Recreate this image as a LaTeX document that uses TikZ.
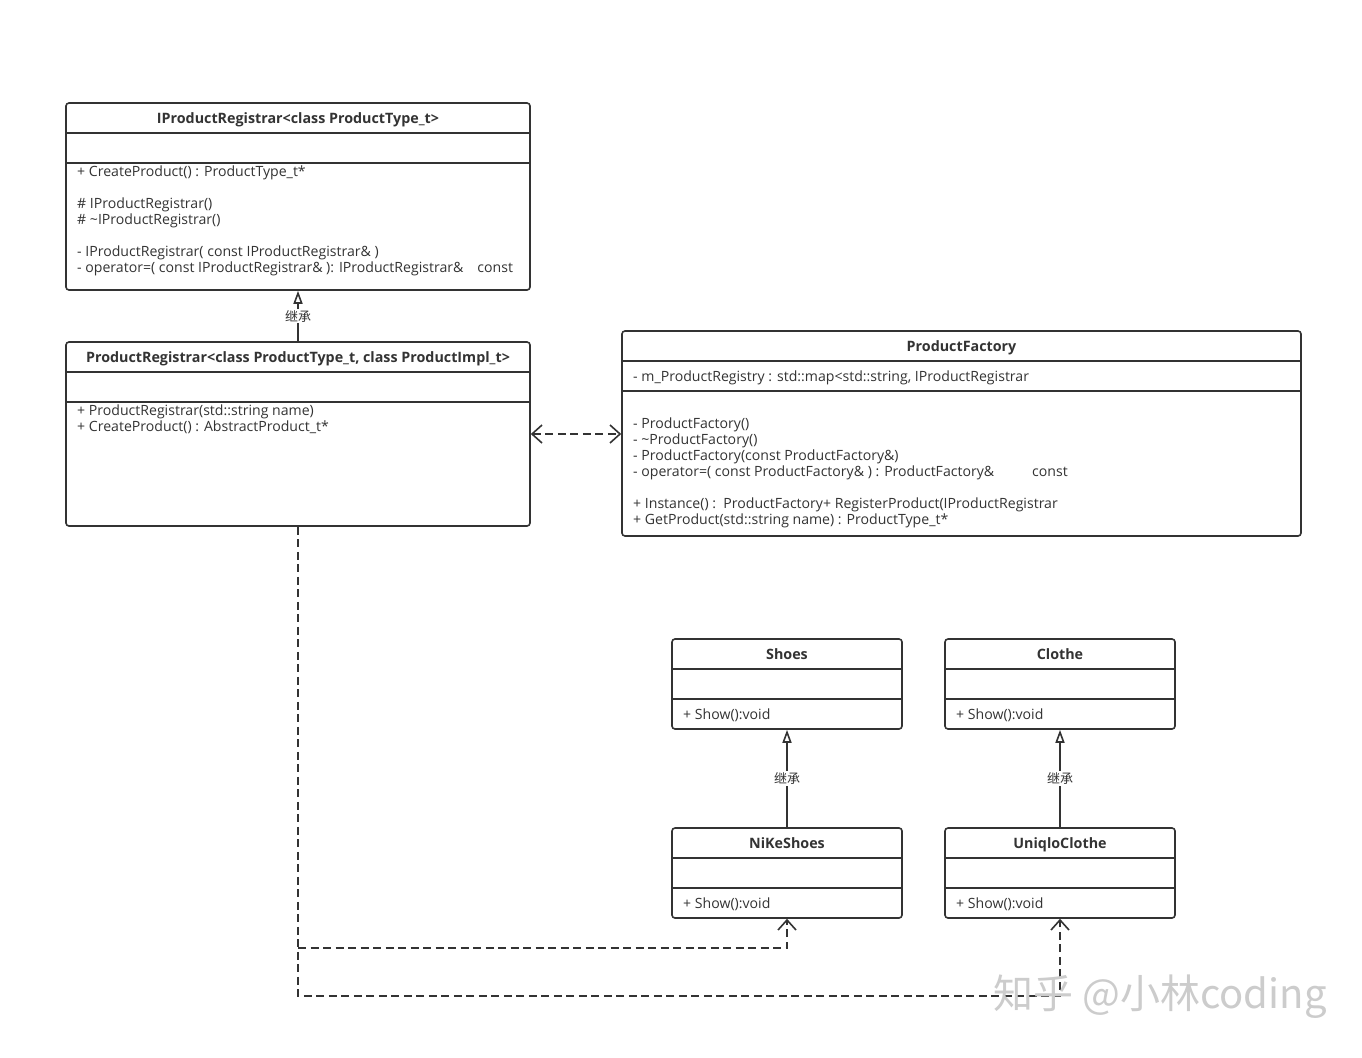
\documentclass[tikz,border=0pt]{standalone}
\usepackage{fontspec}
\setmainfont{Open Sans}
\newfontfamily\cjk{Noto Sans CJK SC}
\usetikzlibrary{arrows.meta}
\definecolor{linec}{HTML}{333333}
\tikzset{
  cls/.style={draw=linec, line width=1.6pt, rounded corners=3pt, fill=white, inner sep=0pt},
  sepl/.style={draw=linec, line width=1.6pt},
  ttl/.style={anchor=base, inner sep=0pt, font=\fontsize{14.3}{16}\selectfont\bfseries, text=linec},
  mtx/.style={anchor=base west, inner sep=0pt, font=\fontsize{14.1}{16}\selectfont, text=linec},
  inh/.style={draw=linec, line width=1.6pt, -{Triangle[open, length=13pt, width=9pt, line width=1.6pt]}},
  dep/.style={draw=linec, line width=1.6pt, dash pattern=on 8pt off 4.5pt},
  barb/.tip={Straight Barb[length=10pt, width=18pt, line width=1.6pt]},
  lbl/.style={fill=white, inner sep=1.5pt, font=\cjk\fontsize{13}{14}\selectfont, text=linec},
  wm/.style={inner sep=0pt, font=\cjk\fontsize{40}{44}\selectfont, text=gray!40}
}
\begin{document}
\begin{tikzpicture}[x=1pt,y=-1pt]
\useasboundingbox[fill=white] (0,0) rectangle (1362,1057);

% IProductRegistrar
\node[cls, minimum width=464pt, minimum height=187pt] (ireg) at (298,196.5) {};
\draw[sepl] (66,133) -- (530,133);
\draw[sepl] (66,163) -- (530,163);
\node[ttl] (iregt) at (298,123) {IProductRegistrar<class ProductType\_t>};
\node[mtx] (iregm1) at (77,176) {+ CreateProduct() : ProductType\_t*};
\node[mtx] (iregm2) at (77,208) {\# IProductRegistrar()};
\node[mtx] (iregm3) at (77,224) {\# \textasciitilde IProductRegistrar()};
\node[mtx] (iregm4) at (77,256) {- IProductRegistrar( const IProductRegistrar\& )};
\node[mtx] (iregm5) at (77,272) {- operator=( const IProductRegistrar\& ): IProductRegistrar\&\hspace{14pt}const};

% ProductRegistrar
\node[cls, minimum width=464pt, minimum height=184pt] (preg) at (298,434) {};
\draw[sepl] (66,372) -- (530,372);
\draw[sepl] (66,402) -- (530,402);
\node[ttl] (pregt) at (298,362) {ProductRegistrar<class ProductType\_t, class ProductImpl\_t>};
\node[mtx] (pregm1) at (77,415) {+ ProductRegistrar(std::string name)};
\node[mtx] (pregm2) at (77,431) {+ CreateProduct() : AbstractProduct\_t*};

% ProductFactory
\node[cls, minimum width=679pt, minimum height=205pt] (pfac) at (961.5,433.5) {};
\draw[sepl] (622,361) -- (1301,361);
\draw[sepl] (622,391) -- (1301,391);
\node[ttl] (pfact) at (961.5,351) {ProductFactory};
\node[mtx] (pfaca1) at (633,381) {- m\_ProductRegistry : std::map<std::string, IProductRegistrar};
\node[mtx] (pfacm1) at (633,428) {- ProductFactory()};
\node[mtx] (pfacm2) at (633,444) {- \textasciitilde ProductFactory()};
\node[mtx] (pfacm3) at (633,460) {- ProductFactory(const ProductFactory\&)};
\node[mtx] (pfacm4) at (633,476) {- operator=( const ProductFactory\& ) : ProductFactory\&\hspace{38pt}const};
\node[mtx] (pfacm5) at (633,508) {+ Instance() :\ \ ProductFactory+ RegisterProduct(IProductRegistrar};
\node[mtx] (pfacm6) at (633,524) {+ GetProduct(std::string name) : ProductType\_t*};

% Shoes
\node[cls, minimum width=230pt, minimum height=90pt] (shoes) at (787,684) {};
\draw[sepl] (672,669) -- (902,669);
\draw[sepl] (672,699) -- (902,699);
\node[ttl] (shoest) at (787,659) {Shoes};
\node[mtx] (shoesm) at (683,719) {+ Show():void};

% Clothe
\node[cls, minimum width=230pt, minimum height=90pt] (clo) at (1060,684) {};
\draw[sepl] (945,669) -- (1175,669);
\draw[sepl] (945,699) -- (1175,699);
\node[ttl] (clot) at (1060,659) {Clothe};
\node[mtx] (clom) at (956,719) {+ Show():void};

% NiKeShoes
\node[cls, minimum width=230pt, minimum height=90pt] (nike) at (787,873) {};
\draw[sepl] (672,858) -- (902,858);
\draw[sepl] (672,888) -- (902,888);
\node[ttl] (niket) at (787,848) {NiKeShoes};
\node[mtx] (nikem) at (683,908) {+ Show():void};

% UniqloClothe
\node[cls, minimum width=230pt, minimum height=90pt] (uniq) at (1060,873) {};
\draw[sepl] (945,858) -- (1175,858);
\draw[sepl] (945,888) -- (1175,888);
\node[ttl] (uniqt) at (1060,848) {UniqloClothe};
\node[mtx] (uniqm) at (956,908) {+ Show():void};

% inheritance
\draw[inh] (preg.north) -- node[lbl] (l1) {继承} (ireg.south);
\draw[inh] (nike.north) -- node[lbl] (l2) {继承} (shoes.south);
\draw[inh] (uniq.north) -- node[lbl] (l3) {继承} (clo.south);

% dependencies
\draw[dep, barb-barb] (preg.east) -- (pfac.west |- preg.east);
\coordinate (c1) at (298,948);
\coordinate (c2) at (298,996);
\draw[dep, -barb] (preg.south) -- (c2) -| (uniq.south);
\draw[dep, -barb] (c1) -| (nike.south);

% watermark
\node[wm] (wmk) at (1160,997) {知乎 @小林coding};
\end{tikzpicture}
\end{document}
